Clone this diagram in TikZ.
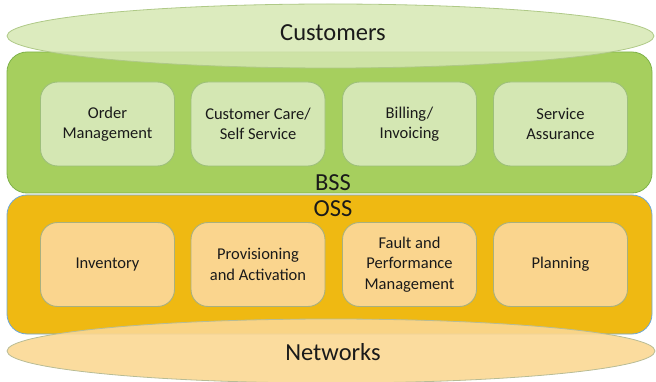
\documentclass[tikz,border=0pt]{standalone}
\usepackage{fontspec}
\setmainfont{Carlito}
\definecolor{bssfill}{HTML}{A6CF5E}
\definecolor{bssline}{HTML}{7FB24A}
\definecolor{bssbox}{HTML}{D4E7B3}
\definecolor{bssboxline}{HTML}{9DBF7A}
\definecolor{custfill}{HTML}{D6E7B3}
\definecolor{custline}{HTML}{AFC987}
\definecolor{ossfill}{HTML}{EFB912}
\definecolor{ossline}{HTML}{6FA8D8}
\definecolor{ossbox}{HTML}{FAD58E}
\definecolor{ossboxline}{HTML}{A9B07E}
\definecolor{netfill}{HTML}{FBD893}
\definecolor{netline}{HTML}{B8BC95}
\definecolor{textcol}{HTML}{1A1A1A}
\begin{document}
\begin{tikzpicture}[x=1pt,y=-1pt,
  layer/.style={rounded corners=20pt, line width=0.8pt},
  module/.style={rounded corners=17pt, line width=0.9pt, minimum width=134pt,
    minimum height=84pt, align=center, inner sep=0pt, text=textcol,
    font=\fontsize{16.5}{20.5}\selectfont},
  title/.style={font=\fontsize{24.5}{28}\selectfont, inner sep=0pt, text=textcol}]
\useasboundingbox (0,0) rectangle (656,382);
% layer panels
\path[layer, fill=bssfill, draw=bssline] (7,52) rectangle (652,193);
\path[layer, fill=ossfill, draw=ossline] (7,195) rectangle (652,334);
% customers and networks ellipses
\path[fill=custfill, fill opacity=0.85, draw=custline, line width=0.8pt]
  (330.5,36) ellipse [x radius=323.5pt, y radius=32pt];
\path[fill=netfill, fill opacity=0.9, draw=netline, line width=0.8pt]
  (331,351) ellipse [x radius=324pt, y radius=32pt];
\node[title] (cust) at (333,33) {Customers};
\node[title] (net) at (333,352) {Networks};
\node[title] (bss) at (333,183) {BSS};
\node[title] (oss) at (333,209) {OSS};
% BSS modules
\node[module, fill=bssbox, draw=bssboxline] (om) at (107.5,124) {Order\\Management};
\node[module, fill=bssbox, draw=bssboxline] (cc) at (258,124) {Customer Care/\\Self Service};
\node[module, fill=bssbox, draw=bssboxline] (bi) at (409.5,124) {Billing/\\Invoicing};
\node[module, fill=bssbox, draw=bssboxline] (sa) at (560.5,124) {Service\\Assurance};
% OSS modules
\node[module, fill=ossbox, draw=ossboxline] (inv) at (107.5,264.5) {Inventory};
\node[module, fill=ossbox, draw=ossboxline] (pa) at (258,264.5) {Provisioning\\and Activation};
\node[module, fill=ossbox, draw=ossboxline] (fp) at (409.5,264.5) {Fault and\\Performance\\Management};
\node[module, fill=ossbox, draw=ossboxline] (pl) at (560.5,264.5) {Planning};
\end{tikzpicture}
\end{document}
